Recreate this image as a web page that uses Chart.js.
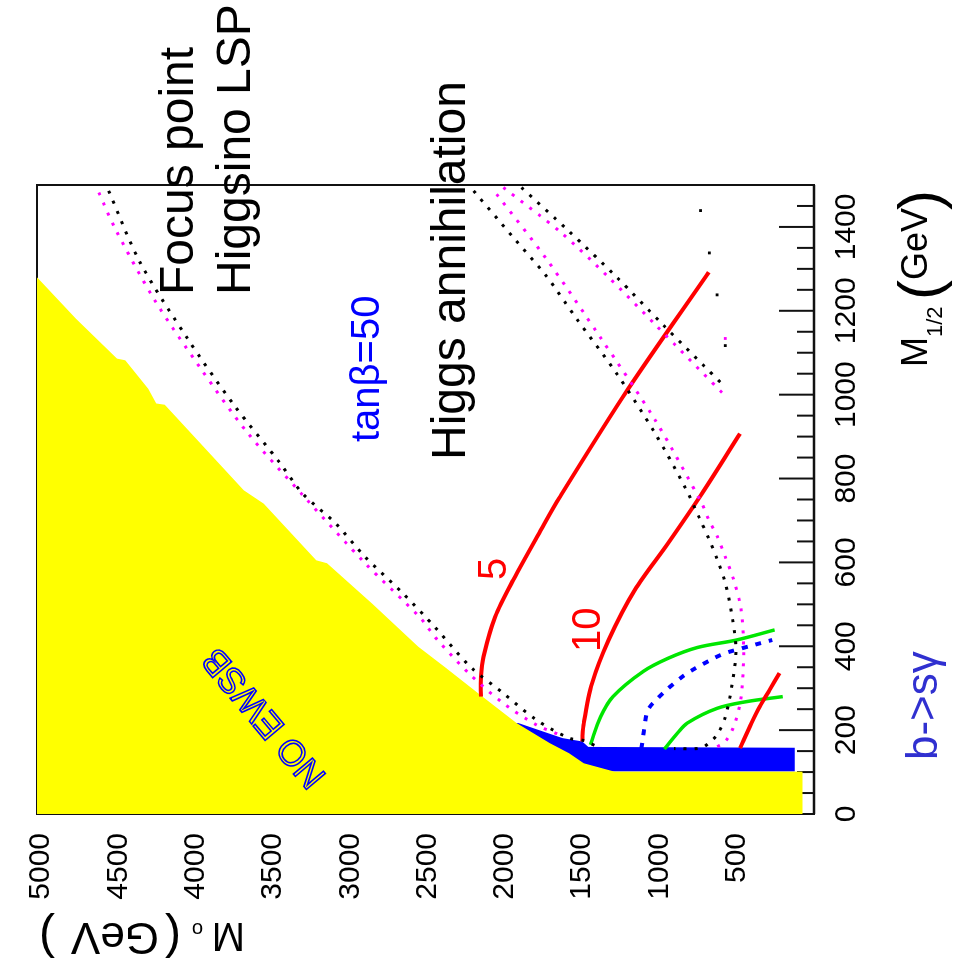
<!DOCTYPE html>
<html>
<head>
<meta charset="utf-8">
<title>tanβ=50 plane</title>
<script src="https://cdn.jsdelivr.net/npm/chart.js@4.4.1/dist/chart.umd.min.js"></script>
<style>
  html, body { margin: 0; padding: 0; background: #fff; overflow: hidden; }
  /* the plot is drawn the normal way and then turned a quarter turn */
  #wrap {
    position: absolute; left: 0; top: 0;
    width: 977px; height: 955px;
    transform-origin: 0 0;
    transform: translate(0, 977px) rotate(-90deg);
  }
</style>
</head>
<body>
<div id="wrap"><canvas id="chart" width="977" height="955"></canvas></div>
<script>
// M1/2 (GeV) on x, M0 (GeV) on y
const noEwsbM12 = [0, 101, 101, 121, 145, 169, 217, 284, 351, 399, 502, 598, 605, 740, 772, 976, 979, 1014, 1082, 1086, 1181, 1280];
const noEwsbM0  = [75, 75, 1290, 1490, 1585, 1710, 1925, 2160, 2390, 2560, 2860, 3150, 3220, 3560, 3690, 4200, 4255, 4308, 4456, 4510, 4775, 5027];

const bsgM12 = [101, 158, 160, 173, 181, 197, 217];
const bsgM0  = [125, 125, 1460, 1500, 1627, 1755, 1914];

const fpBlackM12 = [1486, 1316, 1136, 976, 838, 764, 693, 613, 526, 443, 351, 288, 225, 181, 175, 160];
const fpBlackM0  = [4563, 4361, 4057, 3754, 3457, 3308, 3095, 2904, 2659, 2446, 2223, 2010, 1798, 1585, 1489, 1400];
const fpMagM12 = [1482, 1395, 1225, 1062, 911, 756, 598, 470, 415, 332, 264, 213, 189];
const fpMagM0  = [4627, 4520, 4265, 3967, 3669, 3297, 2904, 2553, 2436, 2223, 2010, 1798, 1648];

const funnelBlackAM12 = [1486, 1375, 1284, 1182, 1050, 907, 776, 700, 657, 608, 551, 468, 390, 313, 231, 189, 169, 157, 156];
const funnelBlackAM0  = [2202, 1946, 1734, 1538, 1276, 1027, 830, 734, 681, 627, 574, 528, 505, 528, 574, 627, 681, 734, 906];
const funnelMagAM12 = [1478, 1325, 1137, 939, 743, 702, 663, 613, 560, 493, 390, 272, 207, 173, 160];
const funnelMagAM0  = [2053, 1734, 1383, 1027, 729, 681, 627, 574, 521, 474, 455, 474, 521, 574, 627];
const funnelBlackBM12 = [1494, 1391, 1280, 1167, 1018];
const funnelBlackBM0  = [1893, 1589, 1276, 978, 574];
const funnelMagBM12 = [1494, 1387, 1280, 1167, 997];
const funnelMagBM0  = [2010, 1638, 1329, 1027, 574];

const loneBlackM12 = [1439, 1338, 1238, 1117];
const loneBlackM0  = [734, 677, 627, 574];
const loneMagM12 = [1134];
const loneMagM0  = [574];

const red5M12 = [280, 328, 375, 470, 558, 685, 755, 1014, 1292];
const red5M0  = [2155, 2155, 2138, 2063, 1946, 1755, 1646, 1202, 681];
const red10M12 = [173, 217, 312, 415, 534, 645, 770, 907];
const red10M0  = [1500, 1489, 1436, 1329, 1160, 946, 715, 479];
const redLowM12 = [157, 217, 256, 296, 336];
const redLowM0  = [479, 404, 351, 287, 223];

const green1M12 = [165, 232, 280, 340, 371, 397, 415, 439];
const green1M0  = [1447, 1380, 1300, 1105, 946, 755, 500, 255];
const green2M12 = [155, 193, 217, 252, 268, 280];
const green2M0  = [968, 883, 819, 627, 436, 202];
const bsgDashM12 = [155, 209, 248, 280, 312, 336, 363, 382, 395, 415];
const bsgDashM0  = [1117, 1096, 1074, 1000, 904, 819, 691, 585, 468, 270];

const m12Ticks = [0, 200, 400, 600, 800, 1000, 1200, 1400];
const m0Ticks = [500, 1000, 1500, 2000, 2500, 3000, 3500, 4000, 4500, 5000];

const pts = (xs, ys) => xs.map((x, i) => ({ x: x, y: ys[i] }));

function area(xs, ys, color, order) {
    return { data: pts(xs, ys), showLine: true, fill: 'end', backgroundColor: color,
             borderWidth: 0, pointRadius: 0, order: order };
}
function curve(xs, ys, color, width, dash, tension) {
    return { data: pts(xs, ys), showLine: true, fill: false, borderColor: color,
             borderWidth: width, borderDash: dash || [], pointRadius: 0,
             tension: tension || 0, order: 1 };
}
function dots(xs, ys, color) {
    return { data: pts(xs, ys), showLine: false, pointStyle: 'rect', pointRadius: 2,
             backgroundColor: color, borderWidth: 0, order: 1 };
}

const FONT = '"Liberation Sans", Arial, sans-serif';

// frame and the inward ticks of the M1/2 axis
const framePlugin = {
    id: 'frame',
    beforeDatasetsDraw(chart) {
        const { ctx, chartArea: a, scales: { x } } = chart;
        ctx.save();
        ctx.strokeStyle = '#111';
        ctx.lineWidth = 2;
        ctx.strokeRect(a.left, a.top, a.right - a.left, a.bottom - a.top);
        ctx.lineWidth = 2.5;
        ctx.beginPath();
        ctx.moveTo(a.left, a.bottom);
        ctx.lineTo(a.right, a.bottom);
        ctx.stroke();
        ctx.lineWidth = 2;
        for (let m = 50; m < 1500; m += 50) {
            const px = x.getPixelForValue(m);
            const len = m % 200 === 0 ? 35 : 17;
            ctx.beginPath();
            ctx.moveTo(px, a.bottom);
            ctx.lineTo(px, a.bottom - len);
            ctx.stroke();
        }
        ctx.restore();
    }
};

// annotations and axis titles
const textPlugin = {
    id: 'texts',
    afterDraw(chart) {
        const ctx = chart.ctx;
        const put = (t, u, v, size, color) => {
            ctx.font = size + 'px ' + FONT;
            ctx.fillStyle = color || '#000';
            ctx.fillText(t, u, v);
        };
        ctx.save();
        ctx.textAlign = 'left';
        ctx.textBaseline = 'alphabetic';

        put('Focus point', 682, 193, 48);
        put('Higgsino LSP', 682, 250, 48);
        put('Higgs annihilation', 517, 465, 48);
        put('tanβ=50', 535, 379, 40, '#0000ff');
        put('5', 397, 506, 40, '#ff0000');
        put('10', 325, 600, 40, '#ff0000');
        put('b->sγ', 217, 937, 44, '#3030d0');

        // M1/2 title
        put('M', 610, 927, 36);
        put('1/2', 640, 942, 22);
        put('(', 677, 940, 60);
        put('GeV', 697, 927, 36);
        put(')', 767, 940, 60);

        // M0 title, running up the left side
        ctx.save();
        ctx.translate(54, 245);
        ctx.rotate(-Math.PI / 2);
        put('M', 0, 0, 40);
        put('o', 42, 0, 20);
        put('(', 64, 0, 48);
        put('GeV', 86, 0, 44);
        put(')', 190, 0, 48);
        ctx.restore();

        // NO EWSB, outlined, along the edge of the excluded region
        ctx.save();
        ctx.translate(260, 265);
        ctx.rotate(-40 * Math.PI / 180);
        ctx.font = '36px ' + FONT;
        ctx.textAlign = 'center';
        ctx.textBaseline = 'middle';
        ctx.strokeStyle = '#0000ff';
        ctx.lineWidth = 1.6;
        ctx.strokeText('NO EWSB', 0, 0);
        ctx.restore();

        ctx.restore();
    }
};

new Chart(document.getElementById('chart'), {
    type: 'scatter',
    data: {
        datasets: [
            area(noEwsbM12, noEwsbM0, '#ffff00', 4),
            area(bsgM12, bsgM0, '#0000ff', 5),
            curve(fpBlackM12, fpBlackM0, '#000000', 3, [3, 8], 0.3),
            curve(fpMagM12, fpMagM0, '#ff00ff', 3, [3, 8], 0.3),
            curve(funnelBlackAM12, funnelBlackAM0, '#000000', 3, [3, 8], 0.3),
            curve(funnelMagAM12, funnelMagAM0, '#ff00ff', 3, [3, 8], 0.3),
            curve(funnelBlackBM12, funnelBlackBM0, '#000000', 3, [3, 8], 0.3),
            curve(funnelMagBM12, funnelMagBM0, '#ff00ff', 3, [3, 8], 0.3),
            dots(loneBlackM12, loneBlackM0, '#000000'),
            dots(loneMagM12, loneMagM0, '#ff00ff'),
            curve(red5M12, red5M0, '#ff0000', 4, null, 0.3),
            curve(red10M12, red10M0, '#ff0000', 4, null, 0.3),
            curve(redLowM12, redLowM0, '#ff0000', 4, null, 0.3),
            curve(green1M12, green1M0, '#00e600', 3.5, null, 0.35),
            curve(green2M12, green2M0, '#00e600', 3.5, null, 0.35),
            curve(bsgDashM12, bsgDashM0, '#0000ff', 4, [6, 8], 0.35)
        ]
    },
    options: {
        responsive: false,
        animation: false,
        events: [],
        layout: { padding: { left: 0, top: 27, right: 185, bottom: 0 } },
        plugins: { legend: { display: false }, tooltip: { enabled: false } },
        scales: {
            x: {
                type: 'linear', position: 'bottom', min: 0, max: 1500,
                grid: { display: false, drawTicks: false },
                border: { display: false },
                afterBuildTicks: s => { s.ticks = m12Ticks.map(v => ({ value: v })); },
                ticks: {
                    autoSkip: false, maxRotation: 0, padding: 15, color: '#000',
                    font: { family: FONT, size: 30 },
                    callback: v => String(v)
                },
                afterFit: s => { s.height = 141; }
            },
            y: {
                type: 'linear', position: 'left', min: 0, max: 5027,
                grid: { display: false, drawTicks: false },
                border: { display: false },
                afterBuildTicks: s => { s.ticks = m0Ticks.map(v => ({ value: v })); },
                ticks: {
                    autoSkip: false, padding: 19, color: '#000',
                    font: { family: FONT, size: 30 },
                    callback: v => String(v)
                },
                afterFit: s => { s.width = 163; }
            }
        }
    },
    plugins: [framePlugin, textPlugin]
});
</script>
</body>
</html>
